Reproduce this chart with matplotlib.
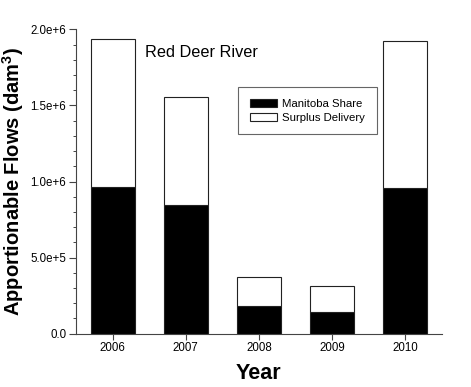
import matplotlib
matplotlib.use("Agg")
import matplotlib.pyplot as plt
from matplotlib.ticker import MultipleLocator

years = [2006, 2007, 2008, 2009, 2010]
manitoba_share = [0.966e6, 0.846e6, 0.184e6, 0.140e6, 0.959e6]
surplus_delivery = [0.968e6, 0.707e6, 0.186e6, 0.171e6, 0.962e6]
ytick_values = [0.0, 5.0e5, 1.0e6, 1.5e6, 2.0e6]
ytick_labels = ["0.0", "5.0e+5", "1.0e+6", "1.5e+6", "2.0e+6"]

plt.rcParams['font.family'] = ['Liberation Sans', 'DejaVu Sans']
plt.rcParams['mathtext.fontset'] = 'custom'
plt.rcParams['mathtext.rm'] = 'Liberation Sans'
plt.rcParams['mathtext.bf'] = 'Liberation Sans:bold'

fig = plt.figure(figsize=(4.71, 3.87), dpi=100)
ax = fig.add_axes([0.1614, 0.1377, 0.9378 - 0.1614, 0.9243 - 0.1377])

edge = '#222222'
ax.bar(years, manitoba_share, width=0.6, color='black', edgecolor=edge,
       linewidth=0.8, label='Manitoba Share')
ax.bar(years, surplus_delivery, width=0.6, bottom=manitoba_share, color='white',
       edgecolor=edge, linewidth=0.8, label='Surplus Delivery')

ax.set_xlim(2005.5, 2010.5)
ax.set_ylim(0, 2.0e6)
ax.set_xticks(years)
ax.set_xticklabels([str(y) for y in years], fontsize=8.3)
ax.set_yticks(ytick_values)
ax.set_yticklabels(ytick_labels, fontsize=8.3)
ax.yaxis.set_minor_locator(MultipleLocator(1e5))

for s in ['top', 'right']:
    ax.spines[s].set_visible(False)
for s in ['left', 'bottom']:
    ax.spines[s].set_color('#444444')
    ax.spines[s].set_linewidth(0.8)

ax.tick_params(axis='both', which='major', direction='out', length=4,
               width=0.8, color='#444444', pad=2)
ax.tick_params(axis='y', which='minor', direction='out', length=2.5,
               width=0.7, color='#444444')
ax.tick_params(axis='y', which='major', length=5)

ax.set_ylabel(r'Apportionable Flows (dam$^{\mathbf{3}}$)', fontsize=14.5,
              fontweight='bold')
ax.yaxis.set_label_coords(-0.137, 0.5)
ax.set_xlabel('Year', fontsize=15.5, fontweight='bold')
ax.xaxis.set_label_coords(0.5, -0.097)

ax.text(0.189, 0.91, 'Red Deer River', transform=ax.transAxes, fontsize=11.7,
        ha='left', va='baseline')

leg = ax.legend(loc='upper left', bbox_to_anchor=(0.444, 0.81), borderaxespad=0,
                fontsize=8.2, fancybox=False, framealpha=1, edgecolor='#666666',
                handlelength=2.3, handleheight=0.7, borderpad=1.05,
                labelspacing=0.3, handletextpad=0.5)
leg.get_frame().set_linewidth(0.8)

fig.savefig('out.png', dpi=100)
